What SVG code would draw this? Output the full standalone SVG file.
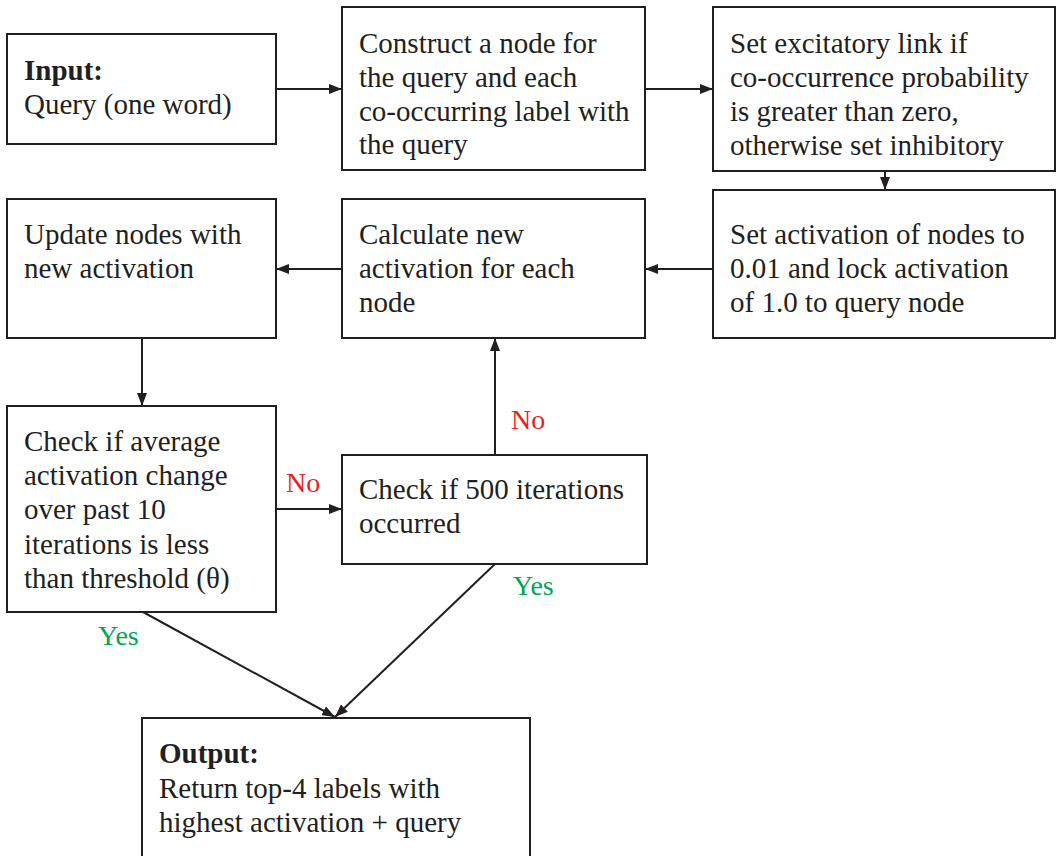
<svg xmlns="http://www.w3.org/2000/svg" width="1057" height="856" viewBox="0 0 1057 856">
<style>
.box{fill:#fff;stroke:#231f20;stroke-width:2}
.t{font-family:"Liberation Serif","Times New Roman",serif;font-size:29px;fill:#231f20}
.b{font-weight:bold}
.no{font-family:"Liberation Serif","Times New Roman",serif;font-size:28px;fill:#ed1c24}
.yes{font-family:"Liberation Serif","Times New Roman",serif;font-size:28px;fill:#00a651}
.c{stroke:#231f20;stroke-width:2;fill:none;marker-end:url(#ah)}
</style>
<defs>
<marker id="ah" markerUnits="userSpaceOnUse" markerWidth="14" markerHeight="10" refX="13" refY="5" orient="auto">
<path d="M0,0 L13,5 L0,10 Z" fill="#231f20"/>
</marker>
</defs>
<rect width="1057" height="856" fill="#fff"/>
<g id="connectors">
<line class="c" x1="276" y1="89" x2="342" y2="89"/>
<line class="c" x1="645" y1="89" x2="713" y2="89"/>
<line class="c" x1="885" y1="171" x2="885" y2="190"/>
<line class="c" x1="713" y1="269" x2="645" y2="269"/>
<line class="c" x1="342" y1="269" x2="276" y2="269"/>
<line class="c" x1="142" y1="338" x2="142" y2="406"/>
<line class="c" x1="276" y1="509" x2="342" y2="509"/>
<line class="c" x1="495" y1="455" x2="495" y2="338"/>
<line class="c" x1="143" y1="612" x2="335" y2="717"/>
<line class="c" x1="495" y1="564" x2="335" y2="717"/>
<text class="no" x="286" y="492">No</text>
<text class="no" x="511" y="429">No</text>
<text class="yes" x="513" y="595">Yes</text>
<text class="yes" x="98" y="645">Yes</text>
</g>
<g id="input">
<rect class="box" x="7" y="34" width="269" height="110"/>
<text class="t b" x="24" y="80">Input:</text>
<text class="t" x="24" y="114">Query (one word)</text>
</g>
<g id="construct">
<rect class="box" x="342" y="7" width="303" height="163"/>
<text class="t" x="359" y="53">Construct a node for</text>
<text class="t" x="359" y="87">the query and each</text>
<text class="t" x="359" y="121">co-occurring label with</text>
<text class="t" x="359" y="154">the query</text>
</g>
<g id="set-links">
<rect class="box" x="713" y="7" width="342" height="164"/>
<text class="t" x="730" y="53">Set excitatory link if</text>
<text class="t" x="730" y="87">co-occurrence probability</text>
<text class="t" x="730" y="121">is greater than zero,</text>
<text class="t" x="730" y="155">otherwise set inhibitory</text>
</g>
<g id="set-activation">
<rect class="box" x="713" y="190" width="342" height="148"/>
<text class="t" x="730" y="244">Set activation of nodes to</text>
<text class="t" x="730" y="278">0.01 and lock activation</text>
<text class="t" x="730" y="312">of 1.0 to query node</text>
</g>
<g id="calculate">
<rect class="box" x="342" y="199" width="303" height="139"/>
<text class="t" x="359" y="244">Calculate new</text>
<text class="t" x="359" y="278">activation for each</text>
<text class="t" x="359" y="312">node</text>
</g>
<g id="update">
<rect class="box" x="7" y="199" width="269" height="139"/>
<text class="t" x="24" y="244">Update nodes with</text>
<text class="t" x="24" y="278">new activation</text>
</g>
<g id="check-average">
<rect class="box" x="7" y="406" width="269" height="206"/>
<text class="t" x="24" y="451">Check if average</text>
<text class="t" x="24" y="485">activation change</text>
<text class="t" x="24" y="519">over past 10</text>
<text class="t" x="24" y="554">iterations is less</text>
<text class="t" x="24" y="588">than threshold (θ)</text>
</g>
<g id="check-500">
<rect class="box" x="342" y="455" width="305" height="109"/>
<text class="t" x="359" y="499">Check if 500 iterations</text>
<text class="t" x="359" y="533">occurred</text>
</g>
<g id="output">
<rect class="box" x="142" y="718" width="388" height="150"/>
<text class="t b" x="159" y="763">Output:</text>
<text class="t" x="159" y="798">Return top-4 labels with</text>
<text class="t" x="159" y="832">highest activation + query</text>
</g>
</svg>
